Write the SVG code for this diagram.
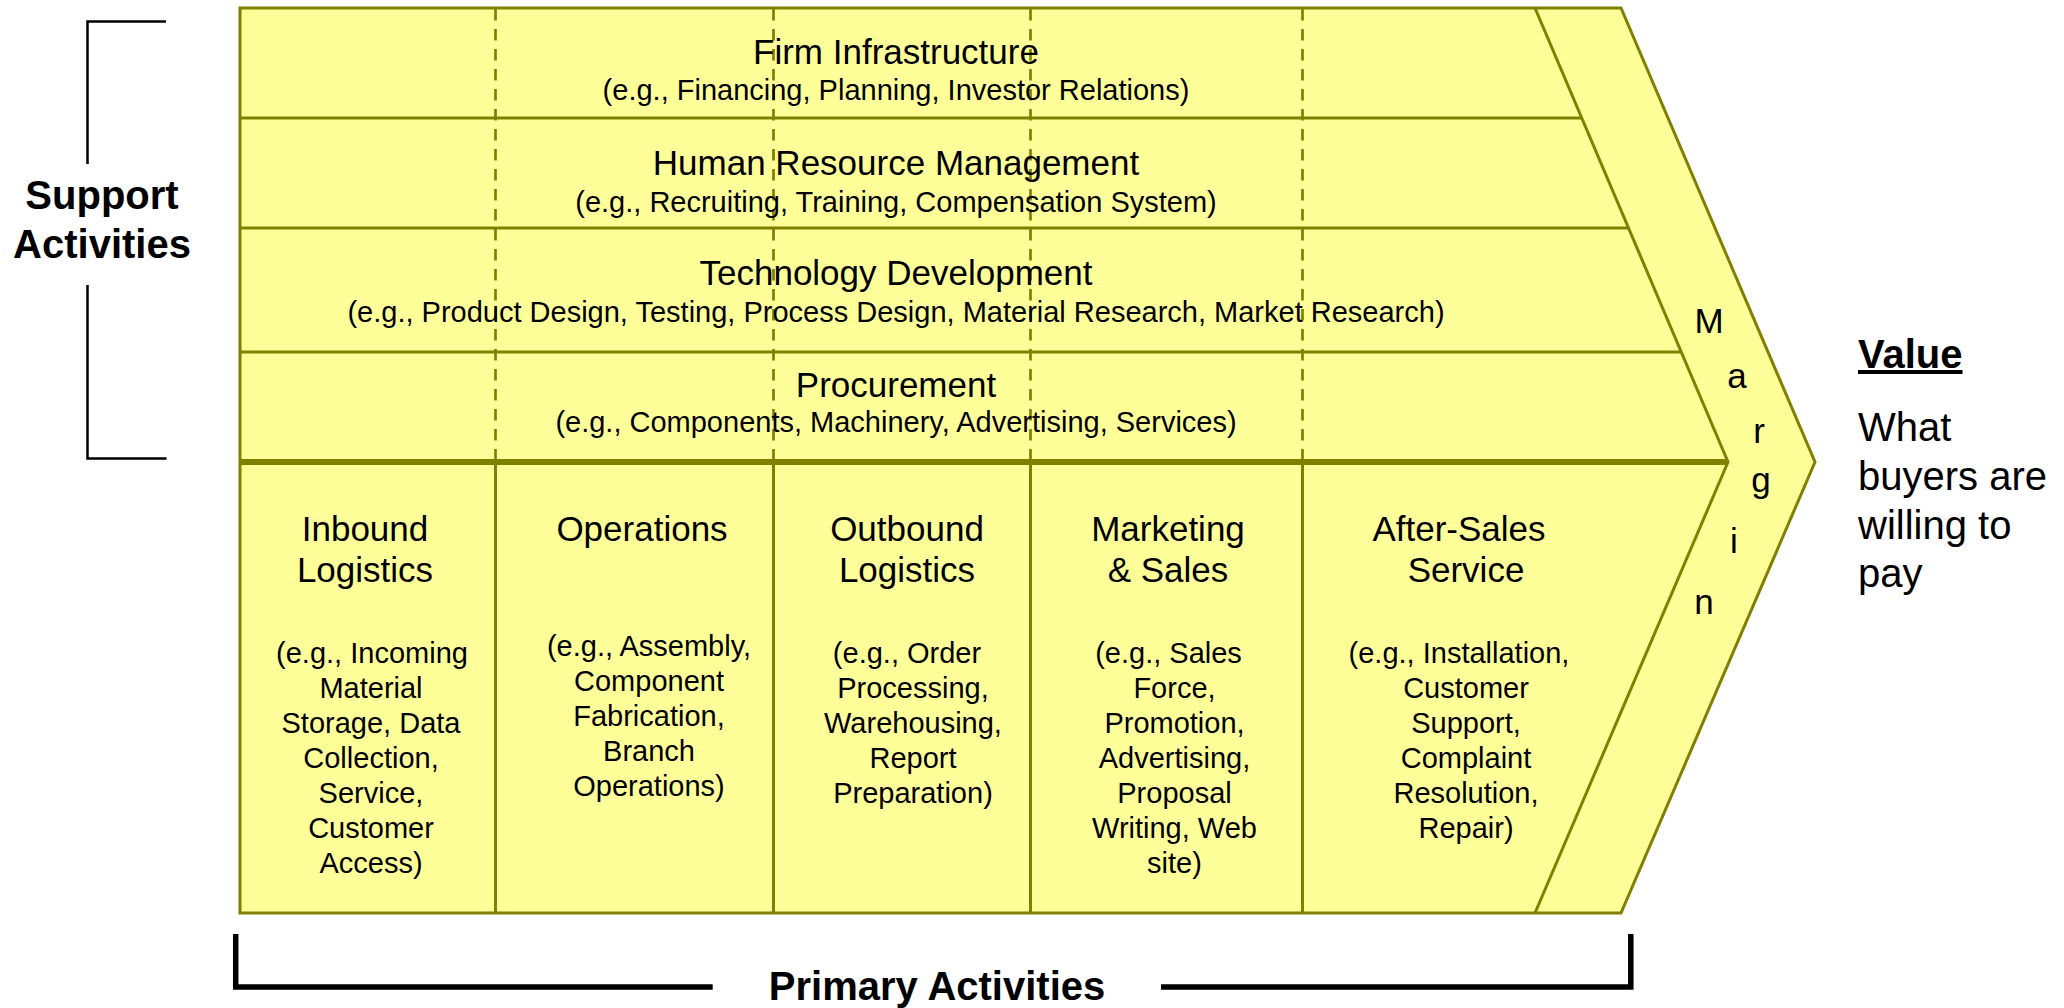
<svg xmlns="http://www.w3.org/2000/svg" width="2064" height="1008" viewBox="0 0 2064 1008">
<style>
text{font-family:"Liberation Sans",Arial,sans-serif;fill:#000}
.t{font-size:35px;text-anchor:middle}
.s{font-size:29px;text-anchor:middle}
.b{font-size:40px;font-weight:bold;text-anchor:middle}
.m{font-size:35px;text-anchor:middle}
.v{font-size:40px}
.ln{stroke:#808000;stroke-width:3;fill:none}
.dash{stroke:#808000;stroke-width:2.7;fill:none;stroke-dasharray:11.5 8.5}
.br{stroke:#000;fill:none}
</style>
<rect width="2064" height="1008" fill="#fff"/>
<g id="value-chain-shape">
<polygon points="240,8 1621,8 1815,462 1621,913 240,913" fill="#FFFF99" stroke="#808000" stroke-width="3"/>
<polyline class="ln" points="1535,8 1728,462 1535,913"/>
</g>
<g id="connectors">
<line class="ln" x1="240" y1="118" x2="1582" y2="118"/>
<line class="ln" x1="240" y1="228" x2="1628.5" y2="228"/>
<line class="ln" x1="240" y1="352" x2="1681" y2="352"/>
<line x1="240" y1="462" x2="1728" y2="462" stroke="#808000" stroke-width="6"/>
<line class="dash" x1="495.5" y1="9" x2="495.5" y2="459"/>
<line class="dash" x1="773.5" y1="9" x2="773.5" y2="459"/>
<line class="dash" x1="1030.5" y1="9" x2="1030.5" y2="459"/>
<line class="dash" x1="1302.5" y1="9" x2="1302.5" y2="459"/>
<line class="ln" x1="495.5" y1="462" x2="495.5" y2="913"/>
<line class="ln" x1="773.5" y1="462" x2="773.5" y2="913"/>
<line class="ln" x1="1030.5" y1="462" x2="1030.5" y2="913"/>
<line class="ln" x1="1302.5" y1="462" x2="1302.5" y2="913"/>
<polyline class="br" stroke-width="2.5" points="166,21.5 87.5,21.5 87.5,164"/>
<polyline class="br" stroke-width="2.5" points="87.5,285 87.5,458.5 166.5,458.5"/>
<polyline class="br" stroke-width="5.5" points="235.7,934 235.7,987 712.7,987"/>
<polyline class="br" stroke-width="5.5" points="1161,987 1630.8,987 1630.8,934"/>
</g>
<g id="firm-infrastructure">
<text class="t" x="896" y="64">Firm Infrastructure</text>
<text class="s" x="896" y="100">(e.g., Financing, Planning, Investor Relations)</text>
</g>
<g id="human-resource-management">
<text class="t" x="896" y="175">Human Resource Management</text>
<text class="s" x="896" y="212">(e.g., Recruiting, Training, Compensation System)</text>
</g>
<g id="technology-development">
<text class="t" x="896" y="285">Technology Development</text>
<text class="s" x="896" y="322">(e.g., Product Design, Testing, Process Design, Material Research, Market Research)</text>
</g>
<g id="procurement">
<text class="t" x="896" y="397">Procurement</text>
<text class="s" x="896" y="432">(e.g., Components, Machinery, Advertising, Services)</text>
</g>
<g id="inbound-logistics">
<text class="t" x="365" y="541">Inbound</text>
<text class="t" x="365" y="582">Logistics</text>
<text class="s" x="372" y="663">(e.g., Incoming</text>
<text class="s" x="371" y="698">Material</text>
<text class="s" x="371" y="733">Storage, Data</text>
<text class="s" x="371" y="768">Collection,</text>
<text class="s" x="371" y="803">Service,</text>
<text class="s" x="371" y="838">Customer</text>
<text class="s" x="371" y="873">Access)</text>
</g>
<g id="operations">
<text class="t" x="642" y="541">Operations</text>
<text class="s" x="649" y="656">(e.g., Assembly,</text>
<text class="s" x="649" y="691">Component</text>
<text class="s" x="649" y="726">Fabrication,</text>
<text class="s" x="649" y="761">Branch</text>
<text class="s" x="649" y="796">Operations)</text>
</g>
<g id="outbound-logistics">
<text class="t" x="907" y="541">Outbound</text>
<text class="t" x="907" y="582">Logistics</text>
<text class="s" x="907" y="663">(e.g., Order</text>
<text class="s" x="913" y="698">Processing,</text>
<text class="s" x="913" y="733">Warehousing,</text>
<text class="s" x="913" y="768">Report</text>
<text class="s" x="913" y="803">Preparation)</text>
</g>
<g id="marketing-sales">
<text class="t" x="1168" y="541">Marketing</text>
<text class="t" x="1168" y="582">&amp; Sales</text>
<text class="s" x="1168.5" y="663">(e.g., Sales</text>
<text class="s" x="1174.5" y="698">Force,</text>
<text class="s" x="1174.5" y="733">Promotion,</text>
<text class="s" x="1174.5" y="768">Advertising,</text>
<text class="s" x="1174.5" y="803">Proposal</text>
<text class="s" x="1174.5" y="838">Writing, Web</text>
<text class="s" x="1174.5" y="873">site)</text>
</g>
<g id="after-sales-service">
<text class="t" x="1459" y="541">After-Sales</text>
<text class="t" x="1466" y="582">Service</text>
<text class="s" x="1459" y="663">(e.g., Installation,</text>
<text class="s" x="1466" y="698">Customer</text>
<text class="s" x="1466" y="733">Support,</text>
<text class="s" x="1466" y="768">Complaint</text>
<text class="s" x="1466" y="803">Resolution,</text>
<text class="s" x="1466" y="838">Repair)</text>
</g>
<g id="margin">
<text class="m" x="1709" y="333">M</text>
<text class="m" x="1737" y="388">a</text>
<text class="m" x="1759" y="443">r</text>
<text class="m" x="1761" y="492">g</text>
<text class="m" x="1734" y="553">i</text>
<text class="m" x="1704" y="614">n</text>
</g>
<g id="support-activities-label">
<text class="b" x="102" y="209">Support</text>
<text class="b" x="102" y="258">Activities</text>
</g>
<g id="primary-activities-label">
<text class="b" x="937" y="1000">Primary Activities</text>
</g>
<g id="value">
<text class="v" x="1858" y="368" font-weight="bold" text-decoration="underline">Value</text>
<text class="v" x="1858" y="441">What</text>
<text class="v" x="1858" y="490">buyers are</text>
<text class="v" x="1858" y="538.5">willing to</text>
<text class="v" x="1858" y="587">pay</text>
</g>
</svg>
